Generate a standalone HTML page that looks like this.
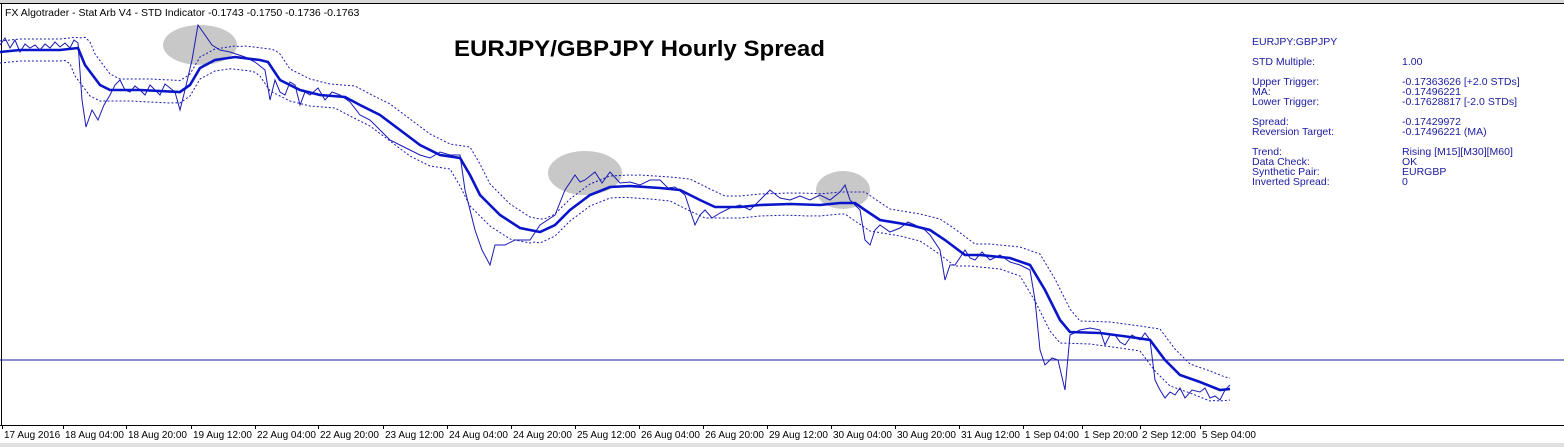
<!DOCTYPE html>
<html><head><style>
body{margin:0;background:#fff;width:1564px;height:447px;overflow:hidden;font-family:"Liberation Sans",sans-serif}
svg{display:block}
</style></head><body>
<svg id="s" width="1564" height="447" xmlns="http://www.w3.org/2000/svg">
<rect x="0" y="0" width="1564" height="447" fill="#fff"/>
<rect x="0" y="0" width="1564" height="3" fill="#d8d8d8"/>
<line x1="1.5" y1="3" x2="1.5" y2="425" stroke="#000" stroke-width="1"/>
<line x1="0" y1="3.5" x2="1564" y2="3.5" stroke="#000" stroke-width="1"/>
<line x1="0" y1="425.5" x2="1564" y2="425.5" stroke="#000" stroke-width="1"/>
<rect x="0" y="443" width="1564" height="4" fill="#e0e0e0"/>
<ellipse cx="200" cy="45" rx="37" ry="20" fill="#c8c8c8"/>
<ellipse cx="585" cy="173" rx="37" ry="22" fill="#c8c8c8"/>
<ellipse cx="843" cy="190" rx="27" ry="19" fill="#c8c8c8"/>
<line x1="0" y1="360" x2="1564" y2="360" stroke="#1a1a9a" stroke-width="1"/>
<g id="series"></g>
<text x="5" y="16" font-size="10.5" fill="#000">FX Algotrader -  Stat Arb V4 - STD Indicator -0.1743 -0.1750 -0.1736 -0.1763</text>
<text x="454" y="56" font-size="22" font-weight="bold" fill="#000" textLength="371" lengthAdjust="spacingAndGlyphs">EURJPY/GBPJPY Hourly Spread</text>
<g font-size="10.5" fill="#1a1aa0">
<text x="1252" y="45">EURJPY:GBPJPY</text>
<text x="1252" y="65">STD Multiple:</text><text x="1402" y="65">1.00</text>
<text x="1252" y="85">Upper Trigger:</text><text x="1402" y="85">-0.17363626 [+2.0 STDs]</text>
<text x="1252" y="95">MA:</text><text x="1402" y="95">-0.17496221</text>
<text x="1252" y="105">Lower Trigger:</text><text x="1402" y="105">-0.17628817 [-2.0 STDs]</text>
<text x="1252" y="125">Spread:</text><text x="1402" y="125">-0.17429972</text>
<text x="1252" y="135">Reversion Target:</text><text x="1402" y="135">-0.17496221  (MA)</text>
<text x="1252" y="155">Trend:</text><text x="1402" y="155">Rising [M15][M30][M60]</text>
<text x="1252" y="165">Data Check:</text><text x="1402" y="165">OK</text>
<text x="1252" y="175">Synthetic Pair:</text><text x="1402" y="175">EURGBP</text>
<text x="1252" y="185">Inverted Spread:</text><text x="1402" y="185">0</text>
</g>
<g id="xl" font-size="10" fill="#000"></g>
</svg>
<script>
var NS="http://www.w3.org/2000/svg";
var ma=[[0,52],[20,50],[60,50],[78,48],[85,65],[100,85],[110,90],[140,90],[180,92],[190,85],[200,68],[215,60],[235,57],[260,60],[268,62],[280,80],[300,90],[320,95],[345,97],[360,105],[380,115],[400,130],[420,145],[440,155],[460,158],[470,175],[480,195],[500,215],[520,228],[540,232],[555,225],[570,210],[590,195],[610,187],[630,186],[660,188],[680,190],[700,200],[715,207],[740,207],[760,205],[790,204],[820,205],[840,203],[855,203],[865,210],[880,220],[910,225],[930,230],[945,240],[965,255],[980,255],[1010,258],[1030,265],[1045,290],[1060,320],[1070,332],[1100,333],[1130,337],[1150,340],[1165,360],[1180,375],[1200,382],[1220,390],[1230,389]];
var sp=[[0,45],[5,38],[10,48],[15,40],[20,52],[25,44],[30,48],[35,45],[40,50],[45,44],[50,48],[55,42],[60,47],[65,43],[70,48],[74,40],[78,43],[82,100],[86,127],[92,110],[98,120],[104,105],[110,95],[115,85],[120,80],[125,90],[130,92],[135,86],[140,90],[145,95],[150,85],[155,90],[160,95],[165,84],[170,88],[175,92],[180,110],[185,90],[192,60],[198,25],[205,35],[212,45],[220,50],[230,52],[245,57],[255,62],[265,70],[270,100],[275,80],[280,92],[285,95],[290,82],[295,85],[300,105],[305,92],[310,95],[318,88],[325,100],[332,92],[340,95],[350,102],[360,115],[370,120],[380,130],[390,140],[400,145],[410,150],[420,155],[430,158],[440,152],[450,155],[460,155],[465,190],[475,230],[482,250],[490,265],[495,245],[505,245],[515,240],[530,240],[540,225],[555,215],[565,190],[575,175],[580,182],[585,180],[595,172],[602,183],[610,172],[620,183],[630,182],[640,185],[650,180],[660,180],[668,188],[675,187],[685,195],[690,210],[695,225],[700,215],[705,210],[712,218],[720,213],[730,208],[740,205],[750,210],[760,200],[765,195],[770,190],[780,198],[790,200],[800,196],[810,200],[820,195],[830,200],[840,192],[845,185],[850,200],[860,210],[865,240],[870,245],[875,230],[880,225],[890,232],[900,228],[908,222],[915,225],[925,230],[930,235],[940,250],[945,280],[950,265],[955,265],[965,250],[970,258],[975,260],[982,252],[990,260],[1000,255],[1010,262],[1020,265],[1030,270],[1035,300],[1040,350],[1045,365],[1052,358],[1058,360],[1065,390],[1070,335],[1080,330],[1090,328],[1100,330],[1105,345],[1110,335],[1115,335],[1120,342],[1125,345],[1132,335],[1140,340],[1145,333],[1150,340],[1155,380],[1160,390],[1165,398],[1170,392],[1175,395],[1180,388],[1185,398],[1192,390],[1200,392],[1205,388],[1210,398],[1215,396],[1220,400],[1225,390],[1230,385]];
function f(x){if(x<=ma[0][0])return ma[0][1];for(var i=1;i<ma.length;i++){if(x<=ma[i][0]){var a=ma[i-1],b=ma[i];return a[1]+(b[1]-a[1])*(x-a[0])/(b[0]-a[0]);}}return ma[ma.length-1][1];}
function pts(a){return a.map(function(p){return p[0]+","+p[1]}).join(" ");}
var up=[],lo=[];for(var x=0;x<=1230;x+=5){up.push([x,Math.min(f(x-10),f(x))-11]);lo.push([x,Math.max(f(x+10),f(x))+11]);}
var g=document.getElementById("series");
function pl(p,w,d){var e=document.createElementNS(NS,"polyline");e.setAttribute("points",pts(p));e.setAttribute("fill","none");e.setAttribute("stroke",w>2?"#0a14c8":"#1a1ab4");e.setAttribute("stroke-width",w);if(d)e.setAttribute("stroke-dasharray",d);g.appendChild(e);}
pl(up,1,"2,2");pl(lo,1,"2,2");pl(sp,1);pl(ma,2.6);
var L=[[4,"17 Aug 2016"],[65,"18 Aug 04:00"],[128,"18 Aug 20:00"],[193,"19 Aug 12:00"],[257,"22 Aug 04:00"],[320,"22 Aug 20:00"],[385,"23 Aug 12:00"],[449,"24 Aug 04:00"],[513,"24 Aug 20:00"],[577,"25 Aug 12:00"],[641,"26 Aug 04:00"],[705,"26 Aug 20:00"],[769,"29 Aug 12:00"],[833,"30 Aug 04:00"],[897,"30 Aug 20:00"],[961,"31 Aug 12:00"],[1025,"1 Sep 04:00"],[1084,"1 Sep 20:00"],[1142,"2 Sep 12:00"],[1202,"5 Sep 04:00"]];
var xl=document.getElementById("xl");
L.forEach(function(l){var t=document.createElementNS(NS,"text");t.setAttribute("x",l[0]);t.setAttribute("y",438);t.textContent=l[1];xl.appendChild(t);var k=document.createElementNS(NS,"line");k.setAttribute("x1",l[0]-1.5);k.setAttribute("x2",l[0]-1.5);k.setAttribute("y1",425);k.setAttribute("y2",429);k.setAttribute("stroke","#000");xl.appendChild(k);});
</script>
</body></html>
